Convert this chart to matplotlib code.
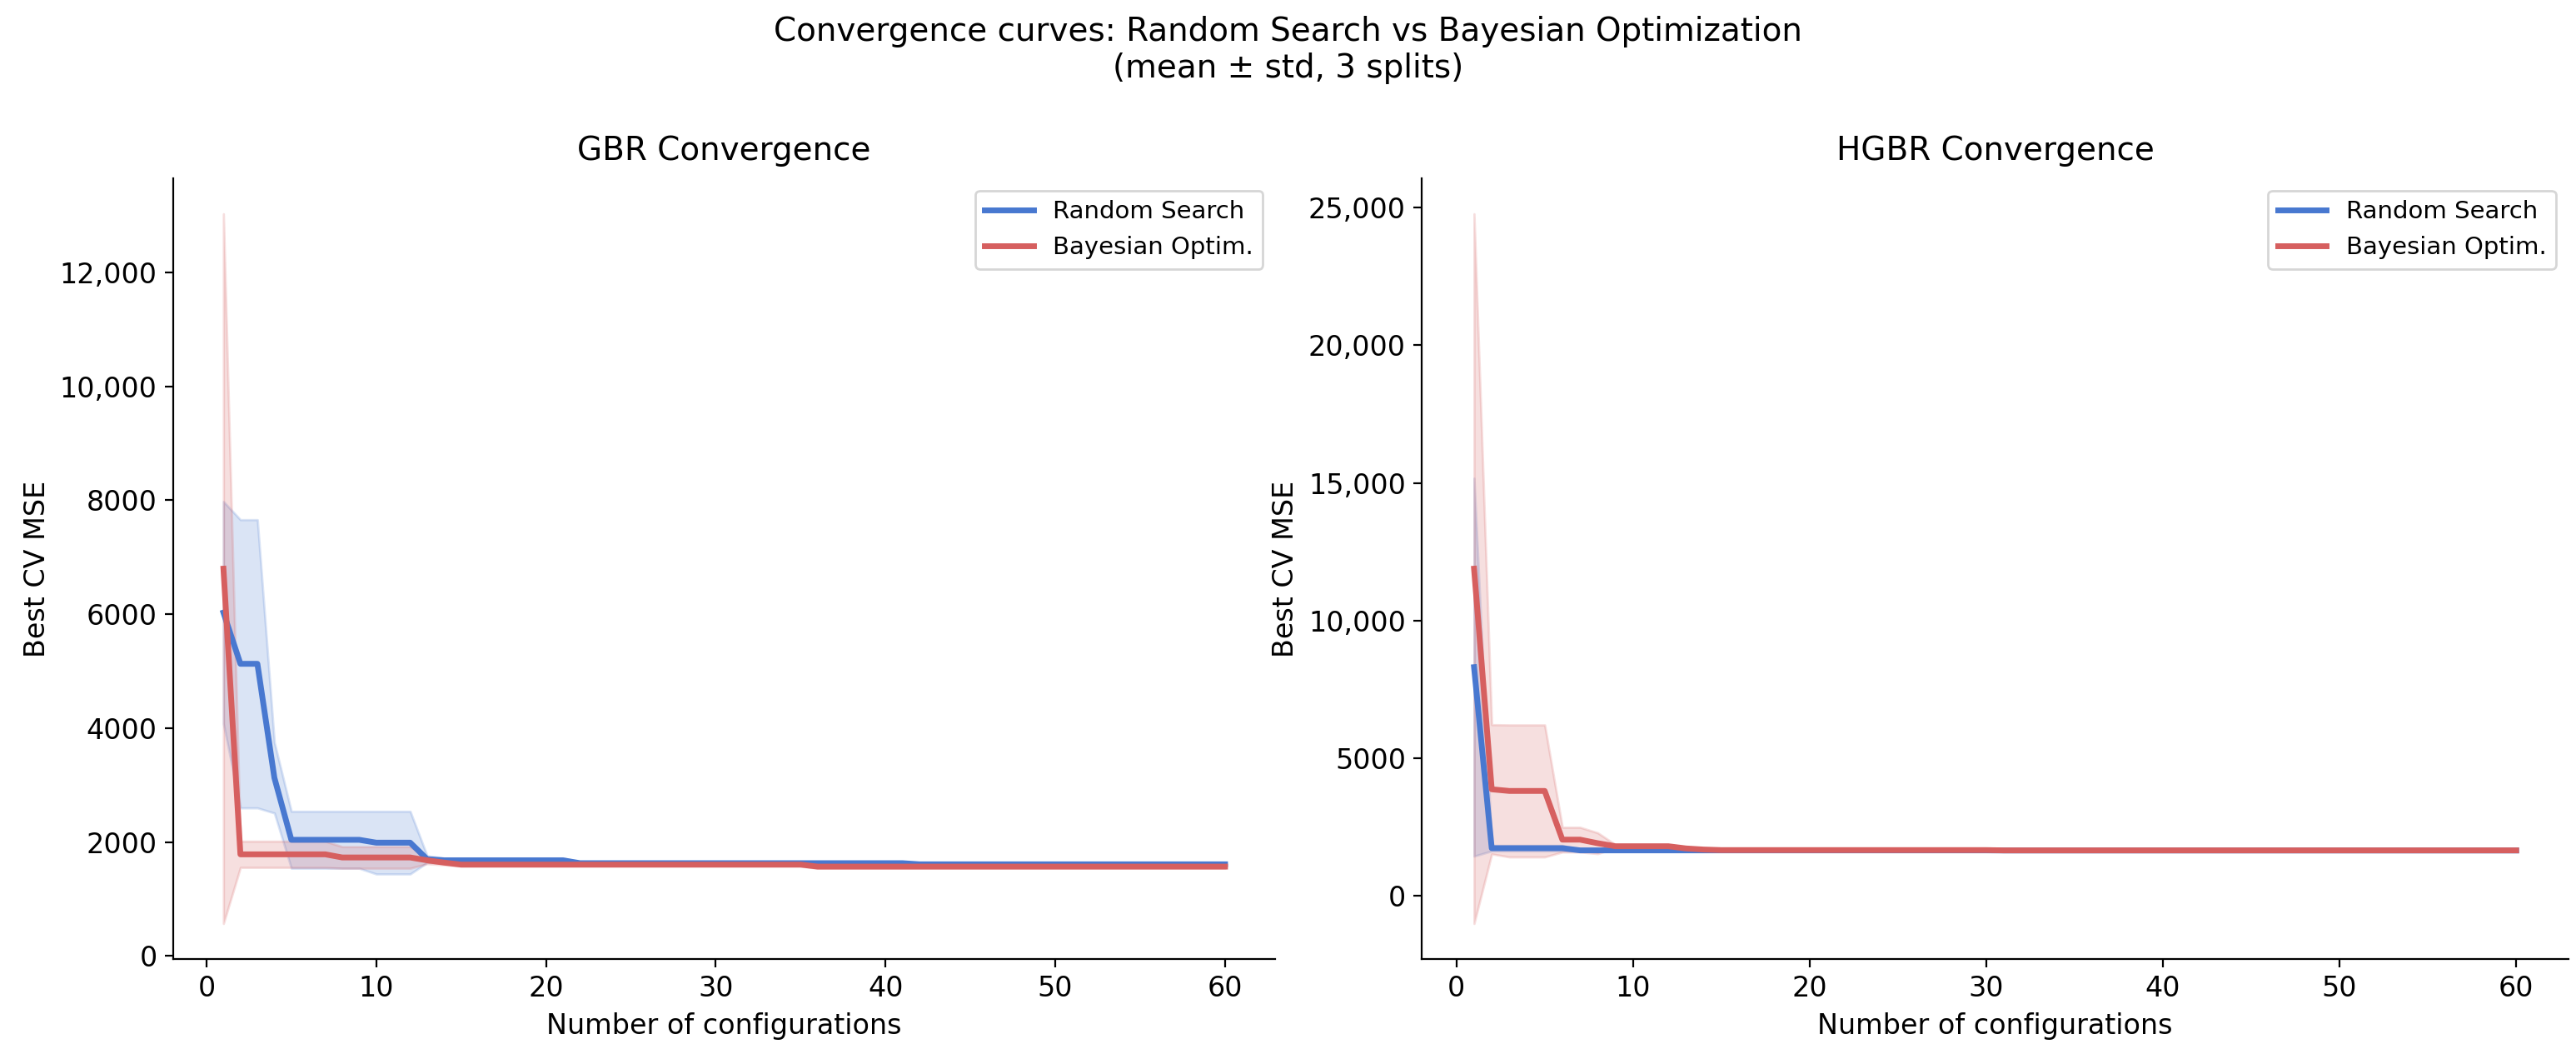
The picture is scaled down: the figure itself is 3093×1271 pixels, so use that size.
import matplotlib
matplotlib.use("Agg")
import matplotlib.pyplot as plt
import matplotlib.ticker as mticker
import numpy as np

plt.rcParams['font.family'] = ['DejaVu Sans']

n_configs = list(range(1, 61))

gbr_random_mean = ([6030, 5130, 5130, 3130, 2040, 2040, 2040, 2040, 2040, 1990, 1990, 1990, 1700]
                   + [1680] * 8 + [1630] * 20 + [1610] * 19)
gbr_random_std = ([1950, 2530, 2530, 620, 500, 500, 500, 500, 500, 550, 550, 550, 60]
                  + [40] * 8 + [25] * 20 + [25] * 19)
gbr_bayes_mean = ([6800, 1785, 1785, 1785, 1785, 1785, 1785, 1730, 1730, 1730, 1730, 1730, 1680, 1640]
                  + [1605] * 21 + [1570] * 25)
gbr_bayes_std = ([6230, 230, 230, 230, 230, 230, 230, 190, 190, 190, 190, 190, 60, 40]
                 + [30] * 21 + [30] * 25)

hgbr_random_mean = ([8300, 1720, 1720, 1720, 1720, 1720] + [1640] * 24 + [1635] * 30)
hgbr_random_std = ([6870, 100, 100, 100, 100, 100] + [30] * 24 + [30] * 30)
hgbr_bayes_mean = ([11880, 3860, 3800, 3800, 3800, 2030, 2030, 1900, 1790, 1790, 1790, 1790, 1710, 1670]
                   + [1650] * 16 + [1640] * 30)
hgbr_bayes_std = ([12900, 2350, 2400, 2400, 2400, 450, 450, 380, 60, 60, 60, 60, 30, 30]
                  + [30] * 16 + [30] * 30)

titles = ["GBR Convergence", "HGBR Convergence"]
series_labels = ["Random Search", "Bayesian Optim."]
colors = ["#4878d0", "#d65f5f"]

panels = [
    (gbr_random_mean, gbr_random_std, gbr_bayes_mean, gbr_bayes_std),
    (hgbr_random_mean, hgbr_random_std, hgbr_bayes_mean, hgbr_bayes_std),
]


def fmt(v, pos):
    if abs(v) >= 10000:
        return f"{v:,.0f}"
    return f"{v:.0f}"


fig = plt.figure(figsize=(15.465, 6.355), dpi=200)
ax_positions = [
    [0.0673, 0.0944, 0.4277, 0.7372],
    [0.5520, 0.0944, 0.4450, 0.7372],
]

x = np.array(n_configs)
for pos, title, (rm, rs, bm, bs) in zip(ax_positions, titles, panels):
    ax = fig.add_axes(pos)
    for mean, std, lab, col in ((rm, rs, series_labels[0], colors[0]),
                                (bm, bs, series_labels[1], colors[1])):
        mean = np.array(mean, dtype=float)
        std = np.array(std, dtype=float)
        ax.plot(x, mean, color=col, lw=2.5, label=lab)
        ax.fill_between(x, mean - std, mean + std, color=col, alpha=0.2)
    ax.set_title(title, fontsize=14, pad=8)
    ax.set_xlabel("Number of configurations", fontsize=12)
    ax.set_ylabel("Best CV MSE", fontsize=12)
    ax.tick_params(labelsize=12)
    ax.yaxis.set_major_formatter(mticker.FuncFormatter(fmt))
    ax.spines['top'].set_visible(False)
    ax.spines['right'].set_visible(False)
    ax.legend(loc="upper right", fontsize=10.5)

fig.suptitle("Convergence curves: Random Search vs Bayesian Optimization\n(mean ± std, 3 splits)",
             fontsize=14, y=0.985)

fig.savefig("out.png", dpi=200)
